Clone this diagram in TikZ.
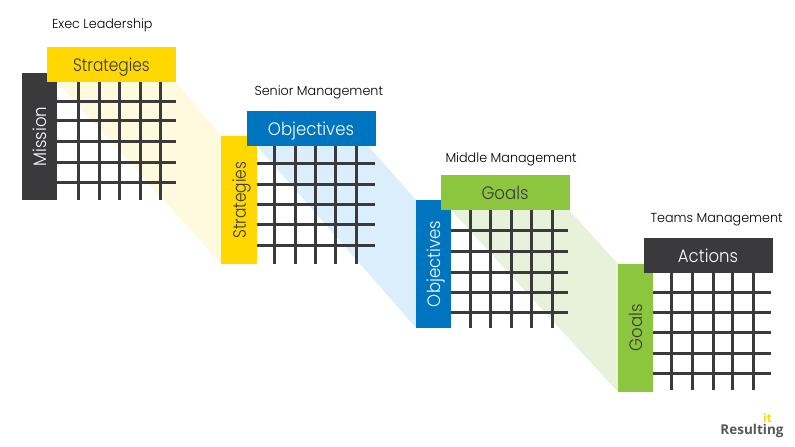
\documentclass[tikz,border=0pt]{standalone}
\usepackage{fontspec}
\setmainfont[FakeStretch=0.98]{Poppins Light}
\newfontfamily\barfont[FakeStretch=0.92]{Poppins Light}
\newfontfamily\logofont{Open Sans}
\usepackage{xcolor}
\usetikzlibrary{positioning}
\definecolor{darkbar}{HTML}{3A393B}
\definecolor{yellowbar}{HTML}{FFD800}
\definecolor{bluebar}{HTML}{0075BF}
\definecolor{greenbar}{HTML}{8CC63F}
\definecolor{yellowband}{HTML}{FFF9DD}
\definecolor{blueband}{HTML}{DAEEFB}
\definecolor{greenband}{HTML}{E8F2DA}
\begin{document}
\begin{tikzpicture}[
    x=1pt, y=-1pt,
    topbar/.style={minimum width=129pt, minimum height=35.5pt, inner sep=0pt, text height=14pt, text depth=0.5pt, font=\barfont\fontsize{18}{20}\selectfont},
    sidebar/.style={minimum width=127.5pt, minimum height=35.5pt, inner sep=0pt, rotate=90, text height=14pt, text depth=0.5pt, font=\barfont\fontsize{18}{20}\selectfont},
    level/.style={inner sep=0pt, anchor=west, font=\fontsize{13}{15}\selectfont},
    gridline/.style={draw=darkbar, line width=3pt}
]
\useasboundingbox (0,0) rectangle (795,447);

% bands
\fill[yellowband] (57,82) -- (176,82) -- (221,136) -- (221,264) -- cycle;
\fill[blueband] (257,146) -- (368,146) -- (416,200) -- (416,328) -- cycle;
\fill[greenband] (451,210) -- (569,210) -- (618,264) -- (618,392) -- cycle;

% grids
\foreach \x in {78.7,99,119.7,140,160} \draw[gridline] (\x,82) -- (\x,200);
\foreach \y in {101,120.7,141,162,182} \draw[gridline] (57,\y) -- (176,\y);
\foreach \x in {274.7,295.7,315,335.7,356} \draw[gridline] (\x,146) -- (\x,264);
\foreach \y in {163.7,184,204,224,245} \draw[gridline] (257,\y) -- (375,\y);
\foreach \x in {470,490.7,511.3,531.7,552.3} \draw[gridline] (\x,210) -- (\x,328);
\foreach \y in {230.7,251.3,272,292.7,312.3} \draw[gridline] (451,\y) -- (568,\y);
\foreach \x in {671.7,692.7,713,732.7,753} \draw[gridline] (\x,272) -- (\x,390);
\foreach \y in {292.7,312,332.7,353,373.7} \draw[gridline] (653,\y) -- (771,\y);

% first block
\node[sidebar, fill=darkbar, text=white] (mission) at (39.5,136.5) {Mission};
\node[topbar, fill=yellowbar, text=darkbar] (strategiesA) at (111.5,64.5) {\scalebox{.93}[1]{Strategies}};
\node[level, above=21pt of strategiesA.north west, anchor=west, xshift=5pt] (exec) {Exec Leadership};

% second block
\node[sidebar, fill=yellowbar, text=darkbar] (strategiesB) at (239,200) {\scalebox{.93}[1]{Strategies}};
\node[topbar, fill=bluebar, text=white] (objectivesA) at (311,128.5) {Objectives};
\node[level, above=18pt of objectivesA.north west, anchor=west, xshift=8pt] (senior) {Senior Management};

% third block
\node[sidebar, fill=bluebar, text=white] (objectivesB) at (433.5,264) {Objectives};
\node[topbar, fill=greenbar, text=darkbar] (goalsA) at (505,192.5) {Goals};
\node[level, above=15pt of goalsA.north west, anchor=west, xshift=5pt] (middle) {Middle Management};

% fourth block
\node[sidebar, fill=greenbar, text=darkbar] (goalsB) at (635.5,328) {Goals};
\node[topbar, fill=darkbar, text=white] (actions) at (708,255.5) {Actions};
\node[level, above=18pt of actions.north west, anchor=west, xshift=7pt] (teams) {Teams Management};

% logo
\node[inner sep=0pt, font=\logofont\bfseries\fontsize{13.5}{15}\selectfont, text=darkbar!85] (resulting) at (752,431) {Resulting};
\node[inner sep=0pt, font=\logofont\bfseries\fontsize{12}{13}\selectfont, text=yellowbar] (logoit) at (767.5,417.5) {it};
\end{tikzpicture}
\end{document}
